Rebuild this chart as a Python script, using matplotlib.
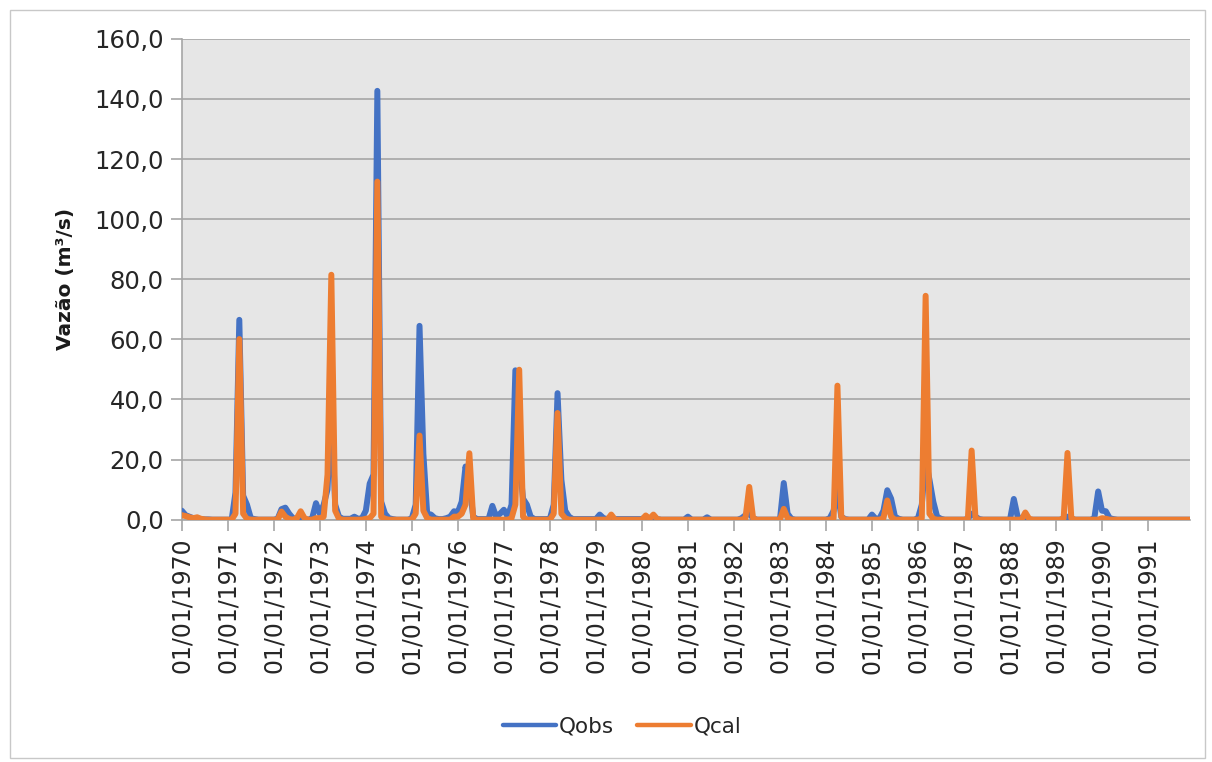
import numpy as np
import matplotlib
matplotlib.use("Agg")
import matplotlib.pyplot as plt
from matplotlib.patches import Rectangle

# monthly flow, one row per year (Jan..Dec), 1970-1991
years = list(range(1970, 1992))

qobs = [
    [3.0, 1.5, 1.0, 0.5, 0.3, 0.2, 0.1, 0.1, 0.0, 0.0, 0.0, 0.0],   # 1970
    [0.0, 0.0, 9.0, 66.5, 8.0, 5.0, 0.5, 0.2, 0.0, 0.0, 0.0, 0.0],  # 1971
    [0.0, 0.3, 3.5, 4.0, 2.0, 0.5, 0.3, 0.2, 0.0, 0.0, 0.5, 5.5],   # 1972
    [2.0, 5.0, 10.0, 38.0, 5.0, 1.0, 0.3, 0.3, 0.3, 1.0, 0.3, 0.5], # 1973
    [3.0, 12.0, 15.0, 142.7, 6.0, 2.0, 0.5, 0.2, 0.0, 0.0, 0.0, 0.0],  # 1974
    [0.5, 5.0, 64.5, 22.0, 2.0, 1.7, 0.5, 0.2, 0.2, 0.5, 1.0, 2.8], # 1975
    [2.5, 6.0, 17.7, 12.0, 1.0, 0.2, 0.2, 0.2, 0.2, 4.6, 1.0, 2.0], # 1976
    [3.3, 1.0, 5.0, 49.7, 20.0, 7.0, 5.0, 1.0, 0.2, 0.2, 0.2, 0.2], # 1977
    [0.3, 5.0, 42.1, 13.3, 3.0, 1.0, 0.2, 0.2, 0.2, 0.2, 0.2, 0.2], # 1978
    [0.2, 1.7, 0.5, 0.2, 0.2, 0.2, 0.2, 0.2, 0.2, 0.2, 0.2, 0.2],   # 1979
    [0.2, 1.0, 0.2, 1.0, 0.2, 0.0, 0.0, 0.0, 0.0, 0.0, 0.0, 0.0],   # 1980
    [1.0, 0.0, 0.0, 0.0, 0.0, 0.8, 0.0, 0.0, 0.0, 0.0, 0.0, 0.0],   # 1981
    [0.0, 0.0, 0.5, 1.5, 2.0, 0.5, 0.0, 0.0, 0.0, 0.0, 0.0, 0.0],   # 1982
    [0.0, 12.2, 2.0, 0.3, 0.0, 0.0, 0.0, 0.0, 0.0, 0.0, 0.0, 0.0],  # 1983
    [0.0, 0.5, 3.0, 10.0, 1.0, 0.2, 0.0, 0.0, 0.0, 0.0, 0.0, 0.0],  # 1984
    [1.7, 0.3, 0.5, 3.0, 9.8, 7.0, 1.0, 0.3, 0.0, 0.0, 0.0, 0.0],   # 1985
    [0.5, 5.0, 20.0, 13.3, 6.0, 1.0, 0.3, 0.0, 0.0, 0.0, 0.0, 0.0], # 1986
    [0.0, 0.3, 2.0, 1.0, 0.2, 0.0, 0.0, 0.0, 0.0, 0.0, 0.0, 0.0],   # 1987
    [0.0, 6.9, 1.0, 0.2, 0.0, 0.0, 0.0, 0.0, 0.0, 0.0, 0.0, 0.0],   # 1988
    [0.0, 0.0, 0.3, 1.0, 0.3, 0.0, 0.0, 0.0, 0.0, 0.0, 0.5, 9.4],   # 1989
    [3.0, 2.8, 0.5, 0.2, 0.0, 0.0, 0.0, 0.0, 0.0, 0.0, 0.0, 0.0],   # 1990
    [0.0, 0.0, 0.0, 0.0, 0.0, 0.0, 0.0, 0.0, 0.0, 0.0, 0.0, 0.0],   # 1991
]

qcal = [
    [1.5, 1.2, 0.8, 0.5, 0.8, 0.3, 0.1, 0.0, 0.0, 0.0, 0.0, 0.0],   # 1970
    [0.0, 0.0, 2.0, 60.1, 2.0, 0.3, 0.0, 0.0, 0.0, 0.0, 0.0, 0.0],  # 1971
    [0.0, 0.0, 2.7, 1.0, 0.2, 0.0, 0.5, 2.8, 0.5, 0.0, 0.0, 0.5],   # 1972
    [0.5, 1.0, 15.0, 81.5, 3.0, 0.3, 0.0, 0.0, 0.0, 0.0, 0.0, 0.0], # 1973
    [0.3, 0.5, 2.0, 112.5, 1.0, 0.3, 0.0, 0.0, 0.0, 0.0, 0.0, 0.0], # 1974
    [0.0, 2.0, 28.0, 3.0, 0.5, 0.0, 0.0, 0.0, 0.0, 0.0, 0.0, 1.0],  # 1975
    [1.0, 2.0, 5.0, 22.1, 0.5, 0.0, 0.0, 0.0, 0.0, 0.0, 0.0, 0.0],  # 1976
    [0.0, 0.0, 0.5, 5.0, 49.9, 1.0, 0.0, 0.0, 0.0, 0.0, 0.0, 0.0],  # 1977
    [0.0, 2.0, 35.5, 2.0, 0.5, 0.0, 0.0, 0.0, 0.0, 0.0, 0.0, 0.0],  # 1978
    [0.0, 0.0, 0.0, 0.0, 1.7, 0.0, 0.0, 0.0, 0.0, 0.0, 0.0, 0.0],   # 1979
    [0.0, 1.4, 0.3, 1.7, 0.2, 0.0, 0.0, 0.0, 0.0, 0.0, 0.0, 0.0],   # 1980
    [0.0, 0.0, 0.0, 0.0, 0.0, 0.0, 0.0, 0.0, 0.0, 0.0, 0.0, 0.0],   # 1981
    [0.0, 0.0, 0.0, 0.5, 10.9, 0.5, 0.0, 0.0, 0.0, 0.0, 0.0, 0.0],  # 1982
    [0.0, 3.6, 0.5, 0.0, 0.0, 0.0, 0.0, 0.0, 0.0, 0.0, 0.0, 0.0],   # 1983
    [0.0, 0.0, 0.5, 44.6, 1.0, 0.0, 0.0, 0.0, 0.0, 0.0, 0.0, 0.0],  # 1984
    [0.0, 0.0, 0.0, 0.5, 6.4, 1.0, 0.0, 0.0, 0.0, 0.0, 0.0, 0.0],   # 1985
    [0.0, 0.5, 74.5, 2.0, 0.3, 0.0, 0.0, 0.0, 0.0, 0.0, 0.0, 0.0],  # 1986
    [0.0, 0.0, 23.0, 0.5, 0.0, 0.0, 0.0, 0.0, 0.0, 0.0, 0.0, 0.0],  # 1987
    [0.0, 0.0, 0.0, 0.0, 2.4, 0.3, 0.0, 0.0, 0.0, 0.0, 0.0, 0.0],   # 1988
    [0.0, 0.0, 0.5, 22.2, 0.5, 0.0, 0.0, 0.0, 0.0, 0.0, 0.0, 0.0],  # 1989
    [0.5, 0.3, 0.0, 0.0, 0.0, 0.0, 0.0, 0.0, 0.0, 0.0, 0.0, 0.0],   # 1990
    [0.0, 0.0, 0.0, 0.0, 0.0, 0.0, 0.0, 0.0, 0.0, 0.0, 0.0, 0.0],   # 1991
]

tick_labels = ["01/01/%d" % y for y in years]
y_ticks = [0, 20, 40, 60, 80, 100, 120, 140, 160]

plt.rcParams['font.family'] = ['DejaVu Sans']

obs = np.array(qobs).ravel()
cal = np.array(qcal).ravel()
x = np.arange(len(obs))

fig = plt.figure(figsize=(12.12, 7.62), dpi=100)
ax = fig.add_axes([0.150, 0.318, 0.832, 0.631])
ax.set_facecolor("#e6e6e6")

ax.plot(x, obs, color="#4472c4", lw=4.3, solid_joinstyle="round",
        solid_capstyle="round", label="Qobs", zorder=3)
ax.plot(x, cal, color="#ed7d31", lw=4.3, solid_joinstyle="round",
        solid_capstyle="round", label="Qcal", zorder=4)

ax.set_xlim(0, len(obs) - 1)
ax.set_ylim(0, 160)
ax.set_yticks(y_ticks)
ax.set_yticklabels([("%.1f" % v).replace(".", ",") for v in y_ticks])
ax.set_xticks(np.arange(0, len(obs), 12))
ax.set_xticklabels(tick_labels, rotation=90)

ax.grid(axis="y", color="#a6a6a6", lw=1.2, zorder=1)
ax.set_axisbelow(True)
for s in ["top", "right"]:
    ax.spines[s].set_visible(False)
for s in ["left", "bottom"]:
    ax.spines[s].set_color("#a6a6a6")
    ax.spines[s].set_linewidth(1.2)
ax.tick_params(axis="both", color="#a6a6a6", width=1.2, length=8,
               labelcolor="#262626", pad=5)
ax.tick_params(axis="x", labelsize=17)
ax.tick_params(axis="y", labelsize=17.5)

ax.set_ylabel("Vazão (m³/s)", fontsize=14.5, fontweight="bold",
              color="#1a1a1a", labelpad=14)

leg = fig.legend(loc="center", bbox_to_anchor=(0.513, 0.046), ncol=2,
                 frameon=False, fontsize=15.5, handlelength=2.5,
                 handletextpad=0.1, columnspacing=1.1,
                 labelcolor="#262626")
for ln in leg.get_lines():
    ln.set_linewidth(3.2)

fig.patches.append(Rectangle((0.008, 0.005), 0.986, 0.982,
                             transform=fig.transFigure, fill=False,
                             edgecolor="#c8c8c8", lw=1.0))

fig.savefig("out.png", dpi=100, facecolor="white")
